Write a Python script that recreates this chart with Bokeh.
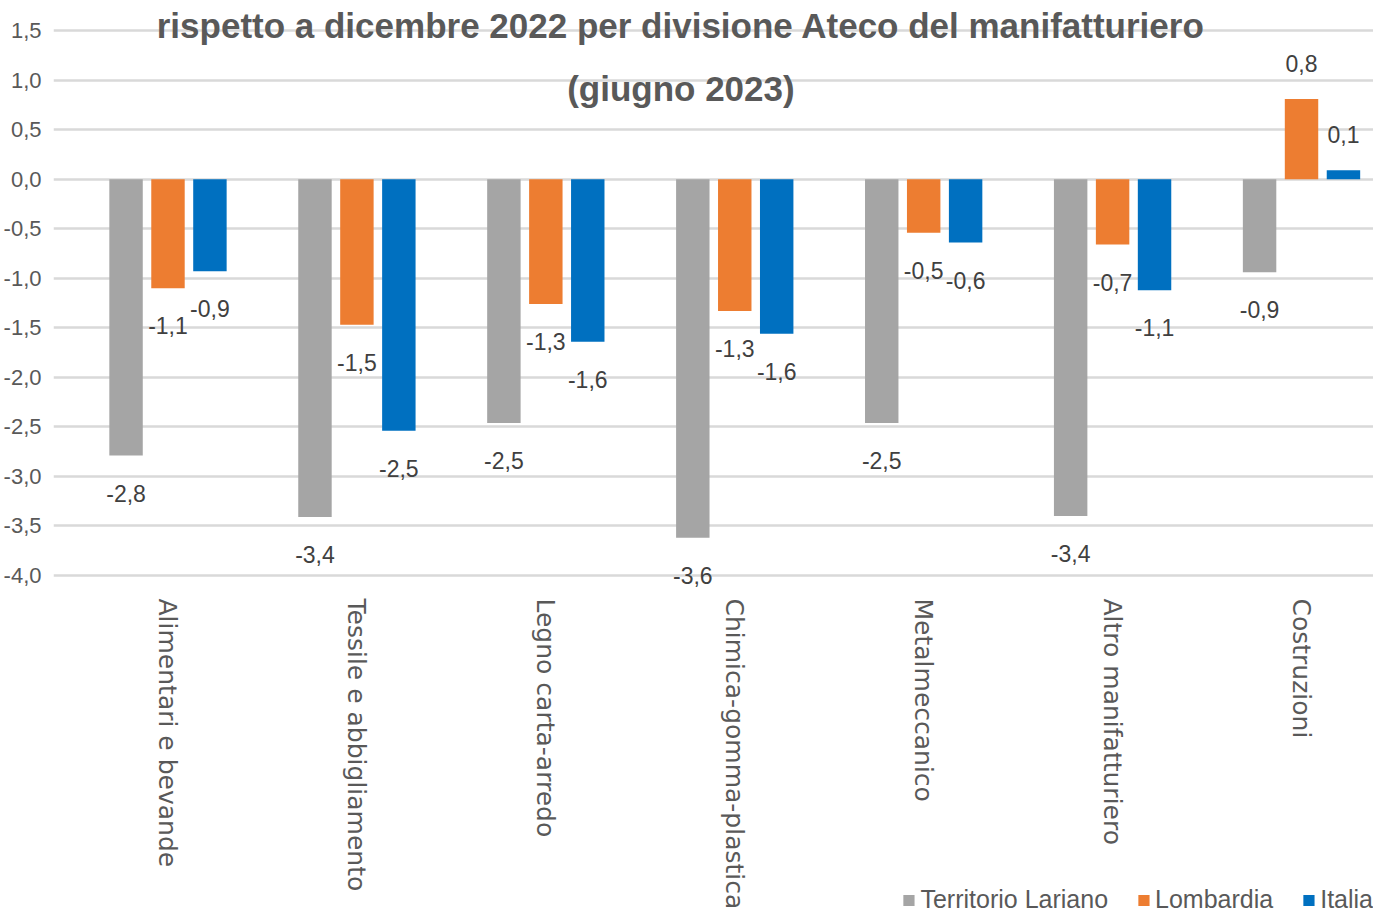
import math
from bokeh.plotting import figure
from bokeh.models import ColumnDataSource, FixedTicker, Legend, LegendItem, Range1d
from bokeh.core.properties import value
from bokeh.embed import file_html
from bokeh.resources import INLINE

categories = ["Alimentari e bevande", "Tessile e abbigliamento", "Legno carta-arredo",
              "Chimica-gomma-plastica", "Metalmeccanico", "Altro manifatturiero", "Costruzioni"]
series = ["Territorio Lariano", "Lombardia", "Italia"]
territorio = [-2.79, -3.41, -2.46, -3.62, -2.46, -3.40, -0.94]
lombardia = [-1.10, -1.47, -1.26, -1.33, -0.54, -0.66, 0.81]
italia = [-0.93, -2.54, -1.64, -1.56, -0.64, -1.12, 0.09]
y_ticks = [-4.0, -3.5, -3.0, -2.5, -2.0, -1.5, -1.0, -0.5, 0.0, 0.5, 1.0, 1.5]
title_lines = ["rispetto a dicembre 2022 per divisione Ateco del manifatturiero", "(giugno 2023)"]

colors = ["#a5a5a5", "#ed7d31", "#0070c0"]
NARROW = "'Liberation Sans Narrow', 'Arial Narrow', 'Liberation Sans', sans-serif"


def fmt(v):
    return f"{v:.1f}".replace(".", ",")


p = figure(width=1373, height=914, x_range=Range1d(-0.606, 6.381), y_range=Range1d(-7.421, 1.803),
           output_backend="svg", toolbar_location=None, x_axis_location=None,
           min_border_left=50, min_border_right=0, min_border_top=0, min_border_bottom=0)
p.outline_line_color = None
p.background_fill_color = "white"
p.xgrid.grid_line_color = None

p.yaxis.ticker = FixedTicker(ticks=y_ticks)
p.yaxis.major_label_overrides = {t: fmt(t) for t in y_ticks}
p.yaxis.axis_line_color = None
p.yaxis.major_tick_line_color = None
p.yaxis.minor_tick_line_color = None
p.yaxis.major_label_standoff = 6
p.yaxis.major_label_text_font = NARROW
p.yaxis.major_label_text_font_size = "22px"
p.yaxis.major_label_text_color = "#595959"
p.ygrid.grid_line_color = "#d9d9d9"
p.ygrid.grid_line_width = 2.5

offsets = [-0.222, 0.0, 0.222]
renderers = []
for name, vals, col, off in zip(series, [territorio, lombardia, italia], colors, offsets):
    xs = [i + off for i in range(len(categories))]
    src = ColumnDataSource(dict(
        x=xs, top=vals,
        ly=[v + 0.36 if v >= 0 else v - 0.38 for v in vals],
        lab=[fmt(v) for v in vals]))
    r = p.vbar(x="x", top="top", bottom=0, width=0.177, source=src, fill_color=col, line_color=None)
    renderers.append(r)
    p.text(x="x", y="ly", text="lab", source=src, text_align="center", text_baseline="middle",
           text_font=value(NARROW), text_font_size="23px", text_color="#404040")

p.text(x=list(range(len(categories))), y=[-4.232] * len(categories), text=categories,
       angle=-math.pi / 2, text_align="left", text_baseline="middle",
       text_font=value("DejaVu Sans"), text_font_size="25px", text_color="#595959")

p.text(x=[2.715, 2.715], y=[1.55, 0.915], text=title_lines, text_align="center",
       text_baseline="middle", text_font=value(NARROW), text_font_style="bold",
       text_font_size="35px", text_color="#595959")

legend = Legend(items=[LegendItem(label=s, renderers=[r]) for s, r in zip(series, renderers)],
                location="bottom_right", orientation="horizontal", margin=0, padding=2,
                spacing=28, glyph_width=14, glyph_height=14, label_standoff=5,
                label_text_font=NARROW, label_text_font_size="25px", label_text_color="#595959",
                background_fill_alpha=0, border_line_color=None)
p.add_layout(legend)

open("out.html", "w").write(file_html(p, INLINE))
